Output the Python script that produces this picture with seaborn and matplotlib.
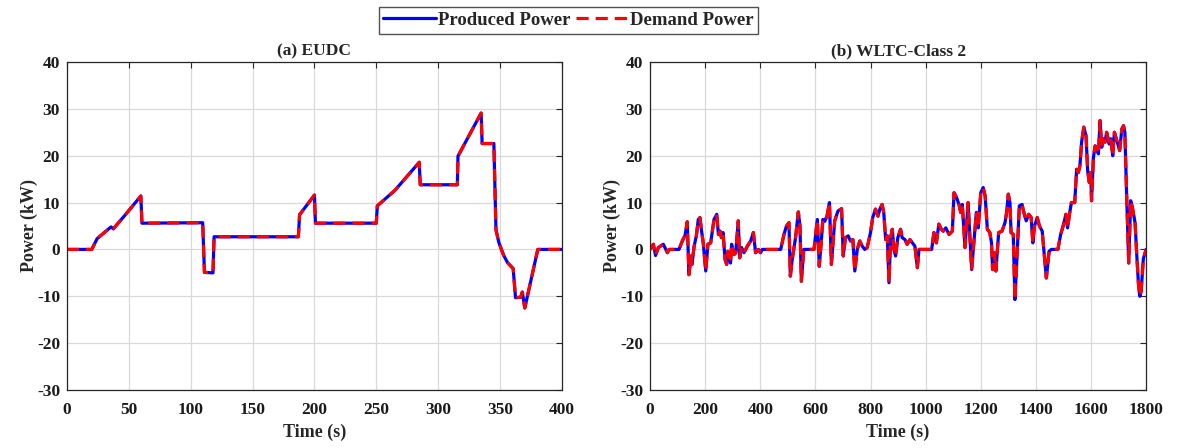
import matplotlib
matplotlib.use("Agg")
import matplotlib.pyplot as plt
import seaborn as sns
from matplotlib.lines import Line2D

# ---------------- data ----------------
eudc_time = [0, 20, 24.4, 35.6, 37.5, 47.2, 59.7, 60.6, 109.7, 111.1, 118, 118.9,
             187, 188, 200, 200.8, 250, 250.8, 265, 284.7, 285.5, 315.5, 316,
             334.7, 335.5, 345, 346.7, 349, 352.8, 356, 360.6, 362.5, 366.7, 368,
             370, 380.5, 400]
eudc_power = [0, 0, 2.3, 4.8, 4.4, 7.4, 11.4, 5.6, 5.7, -4.9, -5.0, 2.7,
              2.7, 7.4, 11.6, 5.6, 5.6, 9.3, 12.6, 18.6, 13.8, 13.8, 19.9,
              29.1, 22.6, 22.6, 4.2, 1.5, -1.2, -2.8, -4.1, -10.3, -10.2, -9.1,
              -12.5, 0, 0]

wltc_time = [0, 12, 20, 30, 48, 63, 69, 105, 117, 127, 135, 141, 149, 152, 160,
             168, 175, 181, 187, 193, 202, 210, 220, 232, 242, 248, 254, 259,
             265, 272, 278, 282, 286, 292, 296, 305, 311, 320, 325, 332, 341,
             353, 365, 375, 383, 393, 401, 407, 474, 486, 495, 504, 509, 516,
             528, 538, 544, 549, 558, 595, 607, 614, 621, 627, 634, 642, 651,
             658, 670, 682, 695, 701, 709, 719, 727, 736, 743, 752, 761, 770,
             779, 788, 800, 808, 818, 827, 834, 842, 848, 855, 861, 867, 873,
             879, 885, 891, 899, 909, 915, 925, 933, 943, 952, 961, 970, 976,
             1022, 1030, 1039, 1048, 1057, 1064, 1073, 1085, 1097, 1103, 1112,
             1121, 1127, 1133, 1143, 1154, 1167, 1176, 1184, 1191, 1200, 1209,
             1216, 1224, 1233, 1239, 1243, 1249, 1255, 1265, 1277, 1288, 1294,
             1300, 1306, 1310, 1318, 1324, 1330, 1340, 1350, 1355, 1365, 1374,
             1383, 1389, 1395, 1405, 1413, 1423, 1432, 1438, 1448, 1456, 1480,
             1490, 1499, 1509, 1515, 1523, 1529, 1541, 1548, 1554, 1560, 1566,
             1574, 1582, 1588, 1594, 1599, 1602, 1609, 1615, 1621, 1627, 1633,
             1639, 1645, 1651, 1657, 1666, 1672, 1679, 1685, 1694, 1704, 1712,
             1718, 1723, 1730, 1737, 1744, 1750, 1760, 1766, 1772, 1777, 1782,
             1790, 1800]
wltc_power = [0, 1.1, -1.3, 0.4, 1.1, -0.7, 0, 0, 1.8, 3.0, 5.9, -5.4, -1.4, -3.2,
              0.7, 2.9, 6.4, 6.8, 3.9, 1.4, -4.6, 1.1, 1.4, 6.4, 7.5, 3.2, 3.9,
              2.5, 3.6, -2.1, -3.2, -0.4, -1.8, -2.9, 1.1, -1.1, -0.7, 6.1, -1.8,
              0.4, -0.7, 0.7, 1.8, 3.6, -0.7, 0, -0.7, 0, 0, 3.2, 5.0, 5.7, -5.7,
              -2.1, 2.5, 8.0, 5.0, -6.8, 0, 0, 6.4, -3.6, 1.4, 6.4, 6.0, 7.1,
              10.0, -3.2, 6.1, 8.2, 8.7, -1.4, 2.5, 2.9, 1.8, 2.1, -4.6, 0, 1.8,
              0.7, 0, 0.4, 3.6, 6.8, 8.6, 7.1, 8.6, 9.6, 7.9, 2.1, 2.9, -7.1,
              2.5, 4.3, 0, -1.4, 2.5, 4.3, 2.5, 2.1, 1.1, 2.1, 1.4, 0.7, -3.9, 0,
              0, 3.6, 1.4, 5.4, 4.3, 3.9, 4.6, 3.2, 3.9, 12.1, 11.1, 9.6, 7.9,
              9.6, 0.4, 10.0, -4.3, 2.1, 7.9, 4.6, 12.1, 13.2, 11.4, 4.3, 3.6,
              1.4, -4.3, -0.7, -4.6, 3.6, 3.9, 5.7, 7.9, 11.8, 10.0, 3.6, 3.2,
              -10.7, -3.6, 9.3, 9.6, 8.2, 6.1, 7.5, 6.8, 1.4, 5.0, 6.8, 5.0, 3.9,
              -2.1, -6.1, -0.4, 0, 0, 3.2, 5.0, 7.5, 4.6, 7.9, 10.0, 10.0, 17.1,
              16.4, 17.9, 22.9, 26.1, 24.3, 16.8, 14.3, 16.4, 10.4, 19.6, 22.1,
              21.4, 20.4, 27.5, 21.8, 23.6, 22.9, 25.0, 22.5, 23.6, 20.0, 25.0,
              23.2, 21.1, 25.7, 26.4, 25.0, 10.4, -2.9, 10.4, 9.0, 5.7, -1.0,
              -7.1, -10.0, -9.0, -2.0, 0]

panel_titles = ["(a) EUDC", "(b) WLTC-Class 2"]
series_labels = ["Produced Power", "Demand Power"]
y_ticks = [-30, -20, -10, 0, 10, 20, 30, 40]
x_ticks_eudc = [0, 50, 100, 150, 200, 250, 300, 350, 400]
x_ticks_wltc = [0, 200, 400, 600, 800, 1000, 1200, 1400, 1600, 1800]

# ---------------- style ----------------
sns.set_style("white")
plt.rcParams["font.family"] = ["Liberation Serif", "DejaVu Serif"]
plt.rcParams["font.weight"] = "bold"
plt.rcParams["axes.unicode_minus"] = False

fig = plt.figure(figsize=(11.83, 4.48), dpi=100)
ax1 = fig.add_axes([0.0566, 0.1295, 0.4184, 0.7321])
ax2 = fig.add_axes([0.5495, 0.1295, 0.4193, 0.7321])

panels = [
    (ax1, eudc_time, eudc_power, x_ticks_eudc, (0, 400)),
    (ax2, wltc_time, wltc_power, x_ticks_wltc, (0, 1800)),
]

for (ax, t, p, xt, xl), title in zip(panels, panel_titles):
    sns.lineplot(x=t, y=p, ax=ax, color="#0000ff", linewidth=2.3,
                 estimator=None, sort=False)
    sns.lineplot(x=t, y=p, ax=ax, color="#ff0000", linewidth=2.3,
                 estimator=None, sort=False)
    ax.lines[-1].set_dashes((3.8, 2.2))
    ax.set_xlim(*xl)
    ax.set_ylim(-30, 40)
    ax.set_xticks(xt)
    ax.set_yticks(y_ticks)
    ax.set_xticklabels([str(v) for v in xt])
    ax.set_yticklabels([str(v) for v in y_ticks])
    ax.grid(True, color="#d9d9d9", linewidth=0.9)
    ax.set_axisbelow(True)
    for s in ax.spines.values():
        s.set_visible(True)
        s.set_color("#262626")
        s.set_linewidth(0.9)
    ax.tick_params(direction="in", top=True, right=True, length=4,
                   width=0.8, color="#262626", labelsize=12.5, labelcolor="#1a1a1a")
    ax.tick_params(axis="x", pad=9)
    ax.tick_params(axis="y", pad=5)
    for lab in ax.get_xticklabels() + ax.get_yticklabels():
        lab.set_fontweight("bold")
    ax.set_xlabel("Time (s)", fontsize=13, fontweight="bold", labelpad=4)
    ax.set_ylabel("Power (kW)", fontsize=13, fontweight="bold", labelpad=-1)
    ax.set_title(title, fontsize=12.5, fontweight="bold", pad=5)

handles = [
    Line2D([], [], color="#0000ff", linewidth=2.3),
    Line2D([], [], color="#ff0000", linewidth=2.3, dashes=(3.8, 2.2)),
]
leg = fig.legend(handles, series_labels, loc="upper center",
                 bbox_to_anchor=(0.4806, 0.984), ncol=2, frameon=True,
                 fancybox=False, edgecolor="#262626", handlelength=2.8,
                 handletextpad=0.1, columnspacing=0.3, borderpad=0.25,
                 borderaxespad=0.0,
                 prop={"family": ["Liberation Serif"], "weight": "bold", "size": 13.5})
leg.get_frame().set_linewidth(1.0)

fig.savefig("out.png", dpi=100, facecolor="white")
